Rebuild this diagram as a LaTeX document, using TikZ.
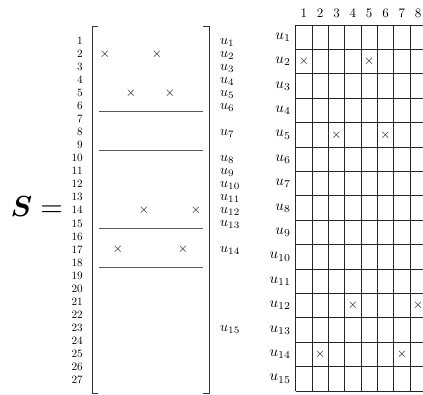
\documentclass[tikz,border=0pt]{standalone}
\usepackage{amsmath}
\usepackage{graphicx}
\newcommand{\szbox}[2]{\scalebox{#1}{#2}}
\begin{document}
\begin{tikzpicture}[x=1pt,y=-1pt,
  rowlab/.style={anchor=base east,inner sep=0pt,font=\fontsize{10}{12}\selectfont},
  ulab/.style={anchor=base west,inner sep=0pt,font=\fontsize{10}{12}\selectfont},
  gulab/.style={anchor=east,inner sep=0pt,font=\fontsize{10}{12}\selectfont},
  hdr/.style={anchor=base,inner sep=0pt,font=\fontsize{10}{12}\selectfont},
  cross/.style={inner sep=0pt,font=\fontsize{10}{12}\selectfont},
  brk/.style={line width=1pt,black!80},
  sep/.style={line width=0.8pt,black!65},
  gridline/.style={line width=0.8pt,black!85}]
\useasboundingbox (0,0) rectangle (423,394);
\clip (0,0) rectangle (423,394);
% S =
\node[anchor=base west,inner sep=0pt,font=\fontsize{10}{12}\selectfont] (S) at (10.5,216.5) {\szbox{2.9}{$\boldsymbol{S} =$}};
% row labels of matrix
\foreach \i in {1,...,27}{
  \node[rowlab] (r\i) at (83,{44.3+13.05*(\i-1)}) {\szbox{1.12}{\i}};
}
% brackets
\coordinate (lbt) at (92,26); \coordinate (lbb) at (92,393);
\coordinate (rbt) at (209,26); \coordinate (rbb) at (209,393);
\draw[brk] ([xshift=6]lbt) -- (lbt) -- (lbb) -- ([xshift=6]lbb);
\draw[brk] ([xshift=-6]rbt) -- (rbt) -- (rbb) -- ([xshift=-6]rbb);
% separators
\foreach \yy [count=\s] in {111,150.2,228.5,267.7}{
  \coordinate (sl\s) at (99,\yy); \coordinate (sr\s) at (203,\yy);
  \draw[sep] (sl\s) -- (sr\s);
}
% crosses in matrix (row, col)
\foreach \r/\c/\n in {2/1/a,2/5/b,5/3/c,5/6/d,14/4/e,14/8/f,17/2/g,17/7/h}{
  \node[cross] (mx\n) at ({105+13*(\c-1)},{40.9+13.05*(\r-1)}) {\szbox{1.3}{$\times$}};
}
% u labels beside matrix
\foreach \k/\r in {1/1,2/2,3/3,4/4,5/5,6/6,7/8,8/10,9/11,10/12,11/13,12/14,13/15,14/17,15/23}{
  \node[ulab] (ul\k) at (220,{44+13.05*(\r-1)}) {\szbox{1.4}{$u_{\k}$}};
}
% grid
\foreach \k in {0,...,8}{
  \coordinate (vt\k) at ({295.7+16.33*\k},25); \coordinate (vb\k) at ({295.7+16.33*\k},391);
  \draw[gridline] (vt\k) -- (vb\k);
}
\foreach \k in {0,...,15}{
  \coordinate (hl\k) at (295.7,{25+24.4*\k}); \coordinate (hr\k) at (426.3,{25+24.4*\k});
  \draw[gridline] (hl\k) -- (hr\k);
}
\foreach \j in {1,...,8}{
  \node[hdr] (h\j) at ({303.85+16.33*(\j-1)},17.5) {\szbox{1.3}{\j}};
}
\foreach \i in {1,...,15}{
  \node[gulab] (gu\i) at (291,{37.2+24.4*(\i-1)}) {\szbox{1.5}{$u_{\i}$}};
}
\foreach \r/\c/\n in {2/1/a,2/5/b,5/3/c,5/6/d,12/4/e,12/8/f,14/2/g,14/7/h}{
  \node[cross] (gx\n) at ({303.85+16.33*(\c-1)},{37.2+24.4*(\r-1)}) {\szbox{1.3}{$\times$}};
}
\end{tikzpicture}
\end{document}
